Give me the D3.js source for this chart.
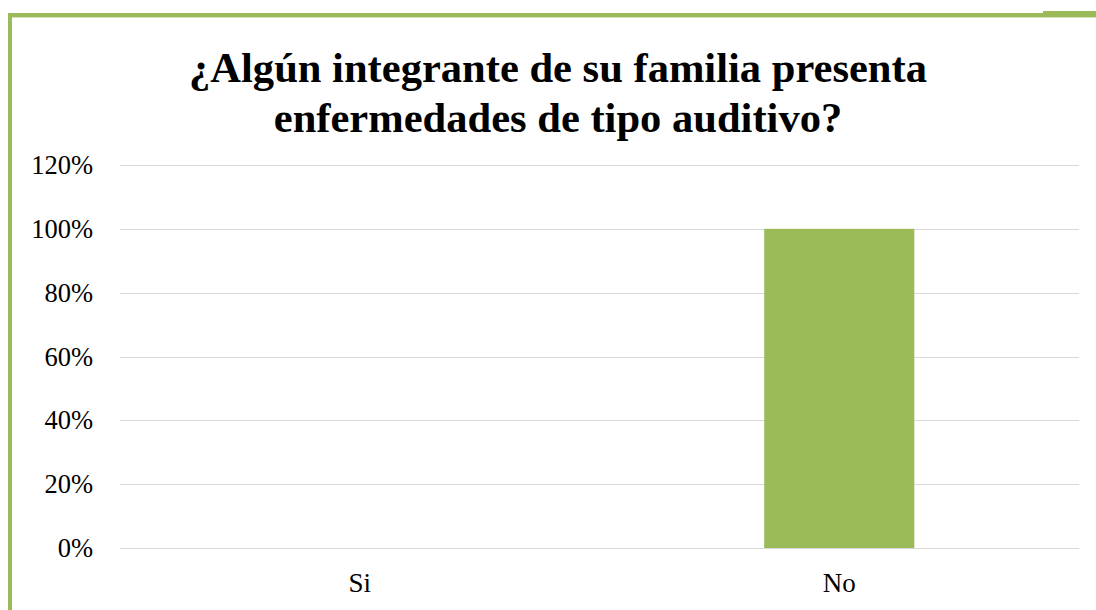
<!DOCTYPE html>
<html lang="es">
<head>
  <meta charset="UTF-8">
  <title>Chart</title>
  <style>
    body { margin: 0; background: #fff; }
  </style>
</head>
<body>
  <script src="https://cdn.jsdelivr.net/npm/d3@7/dist/d3.min.js"></script>
  <script>
    var categories = ["Si", "No"];
    var values = [0, 1];
    var yTicks = [0, 0.2, 0.4, 0.6, 0.8, 1.0, 1.2];
    var titleLines = ["¿Algún integrante de su familia presenta", "enfermedades de tipo auditivo?"];

    var width = 1096, height = 610;
    var green = "#9bbb59";
    var font = "'Liberation Serif', 'Times New Roman', serif";

    var svg = d3.select("body").append("svg")
      .attr("width", width)
      .attr("height", height);

    // marco verde (izquierda y arriba)
    svg.append("rect").attr("x", 8).attr("y", 13).attr("width", 4).attr("height", height - 13).attr("fill", green);
    svg.append("rect").attr("x", 8).attr("y", 13).attr("width", width - 8).attr("height", 4).attr("fill", green);
    svg.append("rect").attr("x", 1043).attr("y", 11).attr("width", width - 1043).attr("height", 6).attr("fill", green);
    svg.append("rect").attr("x", 12).attr("y", 17).attr("width", width - 12).attr("height", 1).attr("fill", "#d7e4bd");

    var margin = { left: 120, right: 17, top: 165, bottom: 62 };

    var x = d3.scaleBand()
      .domain(categories)
      .range([margin.left, width - margin.right])
      .paddingInner(0.687)
      .paddingOuter(0.3435);

    var y = d3.scaleLinear()
      .domain([0, 1.2])
      .range([height - margin.bottom, margin.top]);

    // título
    var title = svg.append("g").selectAll("text")
      .data(titleLines)
      .enter().append("text")
      .attr("x", 558)
      .attr("y", function (d, i) { return 82 + i * 50; })
      .attr("text-anchor", "middle")
      .style("font-family", font)
      .style("font-weight", "bold")
      .style("font-size", "40px")
      .text(function (d) { return d; });

    // ajustar tamaño para que la primera línea mida ~738px
    var w0 = title.node().getComputedTextLength();
    var fs = 40 * 738 / w0;
    title.style("font-size", fs + "px");

    // líneas de cuadrícula
    svg.append("g").selectAll("line")
      .data(yTicks)
      .enter().append("line")
      .attr("x1", margin.left)
      .attr("x2", width - margin.right)
      .attr("y1", function (d) { return Math.round(y(d)) + 0.5; })
      .attr("y2", function (d) { return Math.round(y(d)) + 0.5; })
      .style("stroke", "#d9d9d9")
      .style("stroke-width", 1);

    // etiquetas eje Y
    svg.append("g").selectAll("text")
      .data(yTicks)
      .enter().append("text")
      .attr("x", 93)
      .attr("y", function (d) { return y(d); })
      .attr("dy", "0.34em")
      .attr("text-anchor", "end")
      .style("font-family", font)
      .style("font-size", "26.5px")
      .text(function (d) { return d3.format(".0%")(d); });

    // barras
    svg.append("g").selectAll("rect")
      .data(values)
      .enter().append("rect")
      .attr("x", function (d, i) { return x(categories[i]); })
      .attr("width", x.bandwidth())
      .attr("y", function (d) { return y(d); })
      .attr("height", function (d) { return y(0) - y(d); })
      .attr("fill", green);

    // etiquetas eje X
    svg.append("g").selectAll("text")
      .data(categories)
      .enter().append("text")
      .attr("x", function (d) { return x(d) + x.bandwidth() / 2; })
      .attr("y", 592)
      .attr("text-anchor", "middle")
      .style("font-family", font)
      .style("font-size", "27px")
      .text(function (d) { return d; });
  </script>
</body>
</html>
